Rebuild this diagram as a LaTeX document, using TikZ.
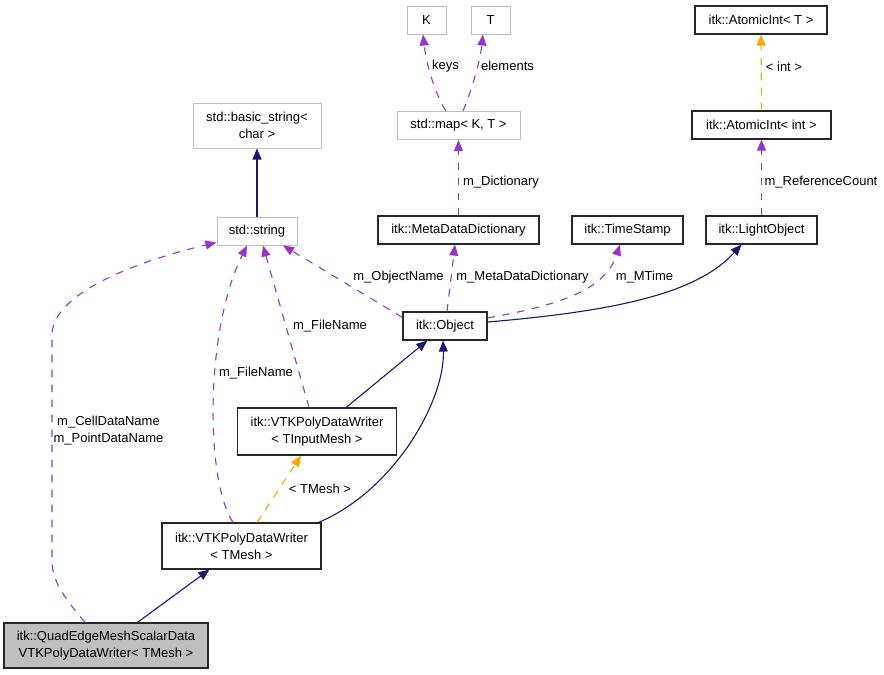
\documentclass[tikz,border=0pt]{standalone}
\usepackage{fontspec}
\setmainfont{Liberation Sans}
\usetikzlibrary{arrows.meta}

\definecolor{inhblue}{HTML}{191970}
\definecolor{usepurple}{HTML}{9A32CD}
\definecolor{tplorange}{HTML}{FFA500}
\definecolor{extgray}{HTML}{BFBFBF}

\begin{document}
\begin{tikzpicture}[x=1pt, y=-1pt,
    every node/.style={font=\fontsize{13}{17}\selectfont, inner sep=0pt},
    cls/.style={draw=black!85, line width=1.2pt, fill=white, align=center, minimum height=28pt},
    ext/.style={draw=extgray, line width=1pt, fill=white, align=center, minimum height=28pt},
    focus/.style={cls, fill=extgray},
    inh/.style={draw=inhblue, line width=1.1pt, -{Triangle[length=11pt, width=9pt]}},
    use/.style={draw=usepurple, line width=1.1pt, dash pattern=on 7.5pt off 7.5pt, -{Triangle[length=11pt, width=9pt]}},
    tpl/.style={draw=tplorange, line width=1.1pt, dash pattern=on 7.5pt off 7.5pt, -{Triangle[length=11pt, width=9pt]}},
    lbl/.style={align=center, fill=none}]
    \useasboundingbox (0, 0) rectangle (884, 675);

    % top row
    \node[ext, minimum width=39pt, minimum height=28pt] (kbox) at (426.5, 20) {K};
    \node[ext, minimum width=39pt, minimum height=28pt] (tbox) at (490.5, 20) {T};
    \node[cls, minimum width=132pt] (atomT) at (761, 20) {itk::AtomicInt< T >};

    % second row
    \node[ext, minimum width=128pt, minimum height=45pt] (bstring) at (257, 125.5) {std::basic\_string<\\char >};
    \node[ext, minimum width=123pt] (map) at (458.5, 125.5) {std::map< K, T >};
    \node[cls, minimum width=139pt] (aint) at (761.5, 125) {itk::AtomicInt< int >};

    % third row
    \node[ext, minimum width=80pt] (string) at (257, 231) {std::string};
    \node[cls, minimum width=161pt] (mdd) at (458.5, 230) {itk::MetaDataDictionary};
    \node[cls, minimum width=111pt] (stamp) at (627.5, 230) {itk::TimeStamp};
    \node[cls, minimum width=111pt] (light) at (761.5, 230) {itk::LightObject};

    % lower part
    \node[cls, minimum width=84pt] (object) at (445, 326) {itk::Object};
    \node[cls, minimum width=159pt, minimum height=47pt] (vtkin) at (317, 431.5) {itk::VTKPolyDataWriter\\< TInputMesh >};
    \node[cls, minimum width=159pt, minimum height=46pt] (vtkt) at (241.5, 546) {itk::VTKPolyDataWriter\\< TMesh >};
    \node[focus, minimum width=204pt, minimum height=45pt] (quad) at (106, 645.5) {itk::QuadEdgeMeshScalarData\\VTKPolyDataWriter< TMesh >};

    % inheritance
    \draw[inh] (string) -- (bstring);
    \draw[inh] (vtkin) -- (object);
    \draw[inh] ([xshift=-3pt]vtkt.north east) .. controls (395, 490) and (445, 400) .. ([xshift=-2pt]object.south);
    \draw[inh] (quad) -- (vtkt);
    \draw[inh] ([yshift=4pt]object.east) .. controls (630, 310) and (700, 290) .. ([xshift=-20pt]light.south);

    % template arguments
    \draw[tpl] (vtkt) -- (vtkin);
    \draw[tpl] (aint) -- (atomT);

    % members
    \draw[use] ([xshift=-21pt]quad.north) .. controls (62, 595) and (52, 580) .. (52, 560)
        -- (52, 335) .. controls (52, 290) and (150, 258) .. ([yshift=3pt]string.south west);
    \draw[use] ([xshift=-8.5pt]vtkt.north) .. controls (205, 480) and (205, 330) .. ([xshift=-10pt]string.south);
    \draw[use] ([xshift=-8pt]vtkin.north) -- ([xshift=6pt]string.south);
    \draw[use] ([yshift=-6pt]object.north west) -- ([xshift=26pt]string.south);
    \draw[use] ([xshift=2pt]object.north) -- ([xshift=-3.5pt]mdd.south);
    \draw[use] ([yshift=8pt]object.east) .. controls (560, 305) and (605, 290) .. ([xshift=-7.5pt]stamp.south);
    \draw[use] (mdd) -- (map);
    \draw[use] ([xshift=-12.5pt]map.north) .. controls (434, 92) and (426, 62) .. ([xshift=-3.5pt]kbox.south);
    \draw[use] ([xshift=4.5pt]map.north) .. controls (471, 92) and (480, 62) .. ([xshift=-7.5pt]tbox.south);
    \draw[use] (light) -- (aint);

    % labels
    \node[lbl] (lblCell) at (108.5, 430.5) {m\_CellDataName\\m\_PointDataName};
    \node[lbl] (lblFileA) at (256, 373) {m\_FileName};
    \node[lbl] (lblFileB) at (330, 326) {m\_FileName};
    \node[lbl] (lblObjName) at (398.5, 277) {m\_ObjectName};
    \node[lbl] (lblMdd) at (522.5, 277) {m\_MetaDataDictionary};
    \node[lbl] (lblMTime) at (644.5, 277) {m\_MTime};
    \node[lbl] (lblTMesh) at (320, 489) {< TMesh >};
    \node[lbl] (lblDict) at (501, 182) {m\_Dictionary};
    \node[lbl] (lblKeys) at (445.5, 66) {keys};
    \node[lbl] (lblElem) at (507.5, 66) {elements};
    \node[lbl] (lblInt) at (784, 67) {< int >};
    \node[lbl] (lblRef) at (821, 182) {m\_ReferenceCount};
\end{tikzpicture}
\end{document}
